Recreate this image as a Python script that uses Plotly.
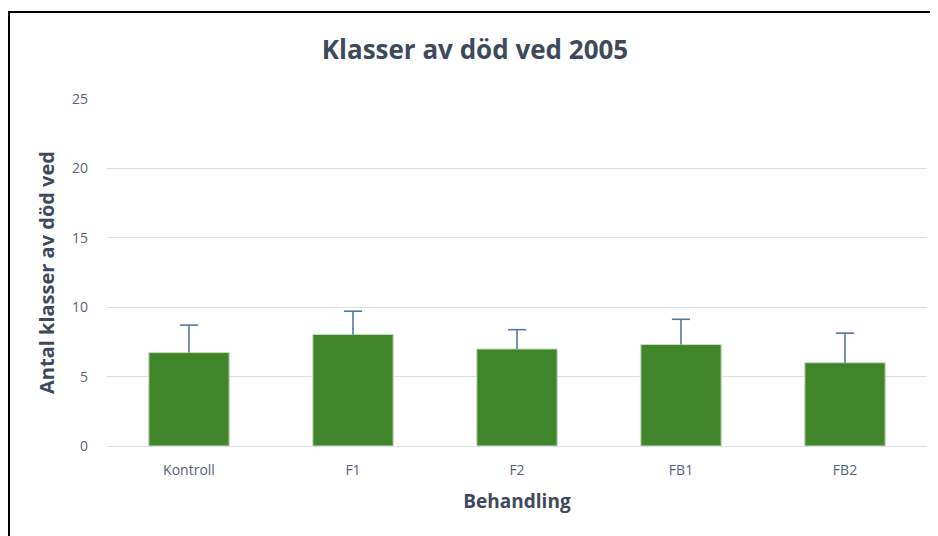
import plotly.graph_objects as go

categories = ["Kontroll", "F1", "F2", "FB1", "FB2"]
values = [6.73, 8.04, 6.99, 7.31, 6.0]
errors_plus = [1.98, 1.67, 1.39, 1.82, 2.13]
y_ticks = [0, 5, 10, 15, 20, 25]

title_text = "Klasser av död ved 2005"
x_title = "Behandling"
y_title = "Antal klasser av död ved"

text_color = "#3E4A5C"
tick_color = "#55627A"
bar_color = "#41852B"
err_color = "#5676A0"
font_family = "Open Sans, Noto Sans, sans-serif"

fig = go.Figure()
fig.add_trace(go.Bar(
    x=categories,
    y=values,
    marker=dict(color=bar_color, line=dict(color="#C9DCC0", width=1)),
    error_y=dict(type="data", symmetric=False, array=errors_plus,
                 arrayminus=[0] * len(values),
                 color=err_color, thickness=1.6, width=0),
))
# caps only on the upper end of each error bar
fig.add_trace(go.Scatter(
    x=categories,
    y=[v + e for v, e in zip(values, errors_plus)],
    mode="markers",
    marker=dict(symbol="line-ew", size=13, line=dict(color=err_color, width=1.6)),
    hoverinfo="skip",
))

# page has an 8px body margin; figure coordinates are offset accordingly
L, R, T, B = 99, 19, 91, 98
W, H = 938, 536
pw = W - L - R
ph = H - T - B

fig.update_layout(
    width=W, height=H,
    margin=dict(l=L, r=R, t=T, b=B),
    paper_bgcolor="white",
    plot_bgcolor="white",
    showlegend=False,
    bargap=0.51,
    title=dict(text="<b>" + title_text + "</b>", x=(W / 2 - 8 + 6) / W, xanchor="center",
               y=1 - 42 / H, yanchor="middle",
               font=dict(family=font_family, size=26, color=text_color)),
    font=dict(family=font_family, color=tick_color),
    xaxis=dict(
        title=dict(text="<b>" + x_title + "</b>",
                   font=dict(size=19, color=text_color), standoff=16),
        tickfont=dict(size=14, color=tick_color),
        ticklabelstandoff=14,
        showgrid=False, showline=False, ticks="",
    ),
    yaxis=dict(
        title=dict(text="<b>" + y_title + "</b>",
                   font=dict(size=20, color=text_color), standoff=11),
        range=[0, 25],
        tickvals=y_ticks,
        tickfont=dict(size=14, color=tick_color),
        ticklabelstandoff=18,
        gridcolor="#DCE1E8", gridwidth=1.2,
        zeroline=True, zerolinecolor="#DCE1E8", zerolinewidth=1.2,
        showline=False, ticks="",
    ),
    shapes=[dict(
        type="rect", xref="paper", yref="paper",
        x0=(1 - L) / pw, x1=(W + 20 - L) / pw,
        y0=-(B + 20) / ph, y1=(H - 4 - B) / ph,
        line=dict(color="black", width=2), fillcolor="rgba(0,0,0,0)",
        layer="above",
    )],
)

fig.write_html("out.html")
